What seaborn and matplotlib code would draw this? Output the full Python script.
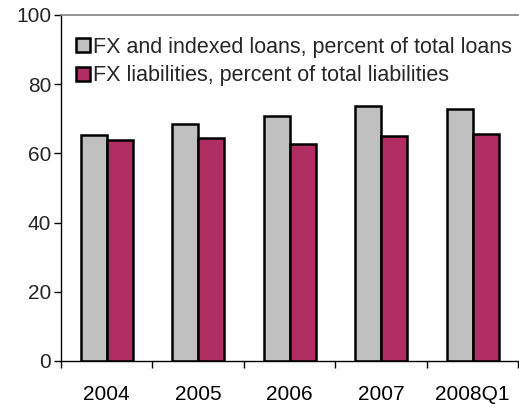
import matplotlib
matplotlib.use("Agg")
import matplotlib.pyplot as plt
import seaborn as sns
import pandas as pd
import numpy as np
from matplotlib.ticker import FixedLocator

periods = ["2004", "2005", "2006", "2007", "2008Q1"]
loans_share = [65.3, 68.5, 70.8, 73.7, 72.8]
liab_share = [63.9, 64.4, 62.7, 65.0, 65.6]
series_names = ["FX and indexed loans, percent of total loans",
                "FX liabilities, percent of total liabilities"]
colors = ["#C0C0C0", "#B12E62"]

sns.set_theme(style="white")
plt.rcParams["font.family"] = ["Liberation Sans", "DejaVu Sans"]

df = pd.DataFrame({
    "period": periods * 2,
    "value": loans_share + liab_share,
    "series": [series_names[0]] * len(periods) + [series_names[1]] * len(periods),
})

fig = plt.figure(figsize=(5.19, 4.07), dpi=100)
ax = fig.add_axes([61 / 519, 1 - 361 / 407, 1 - 61 / 519 - 0.001, (361 - 15) / 407])

sns.barplot(data=df, x="period", y="value", hue="series", order=periods,
            hue_order=series_names, palette=colors, width=0.57,
            edgecolor="black", linewidth=1.8, saturation=1, ax=ax)

ax.set_xlim(-0.5, len(periods) - 0.5)
ax.set_ylim(0, 100)
ax.set_yticks([0, 20, 40, 60, 80, 100])
ax.set_xlabel("")
ax.set_ylabel("")

ax.tick_params(axis="x", which="major", length=0, labelsize=15, pad=17.5, colors="black")
ax.xaxis.set_minor_locator(FixedLocator(np.arange(-0.5, len(periods), 1.0)))
ax.tick_params(axis="x", which="minor", length=5, width=1, color="black", direction="out", bottom=True)
ax.tick_params(axis="y", length=5, width=1, color="black", direction="out", left=True,
               labelsize=15, pad=2)

for s in ["left", "bottom"]:
    ax.spines[s].set_color("black")
    ax.spines[s].set_linewidth(1)
ax.spines["top"].set_color("#808080")
ax.spines["top"].set_linewidth(1.2)
ax.spines["right"].set_visible(False)

leg = ax.legend(loc="upper left", bbox_to_anchor=(-0.005, 0.987), frameon=False,
                fontsize=15.5, handlelength=0.65, handleheight=0.65,
                handletextpad=0.12, labelspacing=0.36, borderaxespad=0.4)
for h in leg.legend_handles:
    h.set_edgecolor("black")
    h.set_linewidth(1.8)

fig.savefig("out.png", dpi=100)
